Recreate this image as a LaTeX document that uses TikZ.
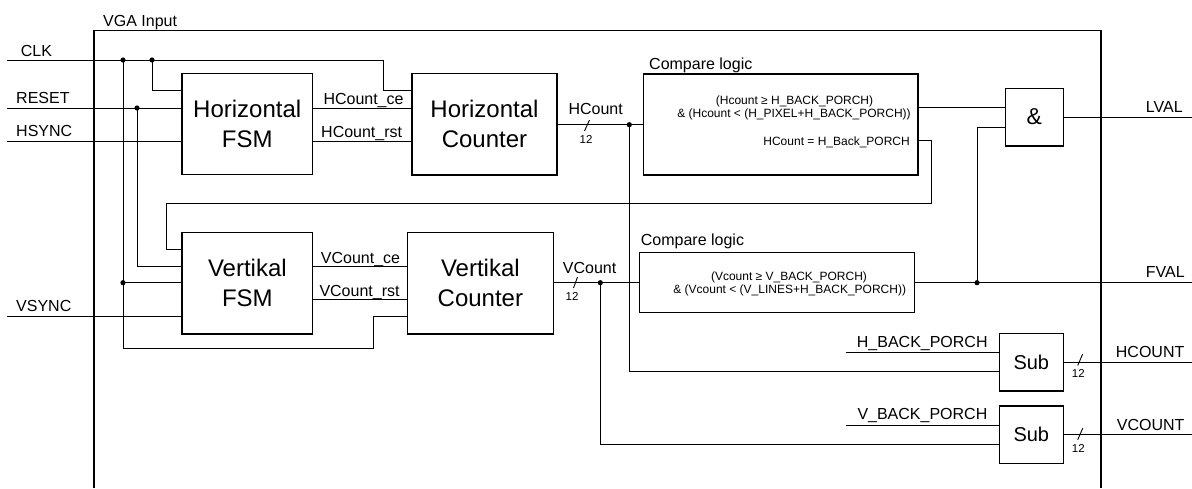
\documentclass[tikz,border=0pt]{standalone}
\usepackage{fontspec}
\setmainfont{Liberation Sans}
\begin{document}
\begin{tikzpicture}[x=1pt,y=-1pt,
  wire/.style={line width=0.9pt},
  frame/.style={line width=1.5pt},
  blk/.style={draw,line width=1.5pt,rectangle,inner sep=0pt,outer sep=0pt,align=center,
              font=\fontsize{24}{30}\selectfont},
  lbl/.style={inner sep=0pt,anchor=base west,font=\fontsize{16}{19}\selectfont},
  cmp/.style={inner sep=0pt,anchor=base,font=\fontsize{12}{14}\selectfont},
  bus/.style={inner sep=0pt,anchor=base,font=\fontsize{11.5}{13}\selectfont}]
\useasboundingbox (0,0) rectangle (1192,488);

% enclosing module
\draw[frame] (94,488) -- (94,30.3) -- (1101,30.3) -- (1101,488);
\node[lbl] (vga) at (103,26) {VGA Input};

% function blocks
\node[blk,minimum width=130.5pt,minimum height=100.8pt] (hfsm) at (247.25,123.9) {Horizontal\\FSM};
\node[blk,minimum width=145pt,minimum height=101.3pt] (hcnt) at (484.5,124.35) {Horizontal\\Counter};
\node[blk,minimum width=274.5pt,minimum height=100.8pt] (hcmp) at (780.75,124.6) {};
\node[blk,minimum width=58.2pt,minimum height=57.7pt,font=\fontsize{23}{27}\selectfont] (andg) at (1034.4,117.15) {\&};
\node[blk,minimum width=130.7pt,minimum height=101.3pt] (vfsm) at (247.35,283.35) {Vertikal\\FSM};
\node[blk,minimum width=145.8pt,minimum height=101.3pt] (vcnt) at (480.4,283.35) {Vertikal\\Counter};
\node[blk,minimum width=275pt,minimum height=60pt] (vcmp) at (776.8,282.7) {};
\node[blk,minimum width=64pt,minimum height=57.7pt,font=\fontsize{20}{24}\selectfont] (sub1) at (1031.3,362.15) {Sub};
\node[blk,minimum width=64pt,minimum height=57.3pt,font=\fontsize{20}{24}\selectfont] (sub2) at (1031.3,434.65) {Sub};

% compare conditions
\node[lbl] (hcl) at (649,69.3) {Compare logic};
\node[cmp] (hc1) at (794.5,104) {(Hcount ≥ H\_BACK\_PORCH)};
\node[cmp] (hc2) at (794,117.5) {\& (Hcount \textless{} (H\_PIXEL+H\_BACK\_PORCH))};
\node[cmp,anchor=base east] (hc3) at (910,145.5) {HCount = H\_Back\_PORCH};
\node[lbl] (vcl) at (640.7,245) {Compare logic};
\node[cmp] (vc1) at (789,280.5) {(Vcount ≥ V\_BACK\_PORCH)};
\node[cmp] (vc2) at (789.7,293) {\& (Vcount \textless{} (V\_LINES+H\_BACK\_PORCH))};

% ports and junctions
\coordinate (clk) at (7,60);
\coordinate (rst) at (7,108);
\coordinate (hs) at (7,141);
\coordinate (vs) at (7,316.7);
\coordinate (jc1) at (123,60);
\coordinate (jc2) at (152,60);
\coordinate (jr) at (137,108);
\coordinate (jc3) at (123,282.7);
\coordinate (jh) at (629.3,124.7);
\coordinate (jv) at (600.3,282.7);
\coordinate (jf) at (977,282.7);
\coordinate (lval) at (1192,117.7);
\coordinate (fval) at (1192,282.7);
\coordinate (hout) at (1192,362.3);
\coordinate (vout) at (1192,434.7);
\coordinate (hbp) at (846,352.7);
\coordinate (vbp) at (846,425);

% inputs
\draw[wire] (clk) -- (383,60) |- (hcnt.west |- 0,90.7);
\draw[wire] (jc2) |- (hfsm.west |- 0,90.7);
\draw[wire] (rst) -- (hfsm.west |- rst);
\draw[wire] (jr) |- (vfsm.west |- 0,266);
\draw[wire] (hs) -- (hfsm.west |- hs);
\draw[wire] (jc1) -- (123,348) -| (373,316.7) -- (vcnt.west |- 0,316.7);
\draw[wire] (jc3) -- (vfsm.west |- jc3);
\draw[wire] (vs) -- (vfsm.west |- vs);

\node[lbl] (lclk) at (20.7,56.3) {CLK};
\node[lbl] (lrst) at (16,103.3) {RESET};
\node[lbl] (lhs) at (16,136.7) {HSYNC};
\node[lbl] (lvs) at (16,311.7) {VSYNC};

% horizontal path
\draw[wire] (hfsm.east |- 0,108) -- (hcnt.west |- 0,108);
\draw[wire] (hfsm.east |- 0,141) -- (hcnt.west |- 0,141);
\node[lbl] (lhce) at (323.3,104.3) {HCount\_ce};
\node[lbl] (lhrst) at (321,137.7) {HCount\_rst};
\draw[wire] (hcnt.east |- jh) -- (hcmp.west |- jh);
\node[lbl] (lhc) at (568.3,114) {HCount};
\draw[wire] (589.5,120) -- (584.5,131);
\node[bus] (bh) at (586,143.3) {12};
\draw[wire] (jh) |- (sub1.west |- 0,371.7);
\draw[wire] (hcmp.east |- 0,107.5) -- (andg.west |- 0,107.5);
\draw[wire] (hcmp.east |- 0,140.7) -- (931.7,140.7) |- (166,203.7) |- (vfsm.west |- 0,249.3);
\draw[wire] (andg.east |- lval) -- (lval);
\node[lbl] (llval) at (1145.7,112.7) {LVAL};

% vertical path
\draw[wire] (vfsm.east |- 0,266) -- (vcnt.west |- 0,266);
\draw[wire] (vfsm.east |- 0,299.3) -- (vcnt.west |- 0,299.3);
\node[lbl] (lvce) at (320.7,263.3) {VCount\_ce};
\node[lbl] (lvrst) at (319.3,296.7) {VCount\_rst};
\draw[wire] (vcnt.east |- jv) -- (vcmp.west |- jv);
\node[lbl] (lvc) at (562.7,273.3) {VCount};
\draw[wire] (577.5,277) -- (573.5,288);
\node[bus] (bv) at (572,300) {12};
\draw[wire] (jv) |- (sub2.west |- 0,444);
\draw[wire] (vcmp.east |- fval) -- (fval);
\draw[wire] (jf) |- (andg.west |- 0,127.3);
\node[lbl] (lfval) at (1145.7,277.7) {FVAL};

% offset subtraction
\draw[wire] (hbp) -- (sub1.west |- hbp);
\node[lbl] (lhbp) at (856.7,347.7) {H\_BACK\_PORCH};
\draw[wire] (sub1.east |- hout) -- (hout);
\draw[wire] (1082.7,354) -- (1077.7,365.5);
\node[bus] (bs1) at (1078.3,377.3) {12};
\node[lbl] (lhout) at (1115.7,357.7) {HCOUNT};
\draw[wire] (vbp) -- (sub2.west |- vbp);
\node[lbl] (lvbp) at (857.3,419.3) {V\_BACK\_PORCH};
\draw[wire] (sub2.east |- vout) -- (vout);
\draw[wire] (1082.7,428.3) -- (1077.7,439.8);
\node[bus] (bs2) at (1078.3,452.3) {12};
\node[lbl] (lvout) at (1116.7,430) {VCOUNT};

% junction dots
\foreach \p in {jc1,jc2,jr,jc3,jh,jv,jf} \fill (\p) circle (2.6pt);
\end{tikzpicture}
\end{document}
